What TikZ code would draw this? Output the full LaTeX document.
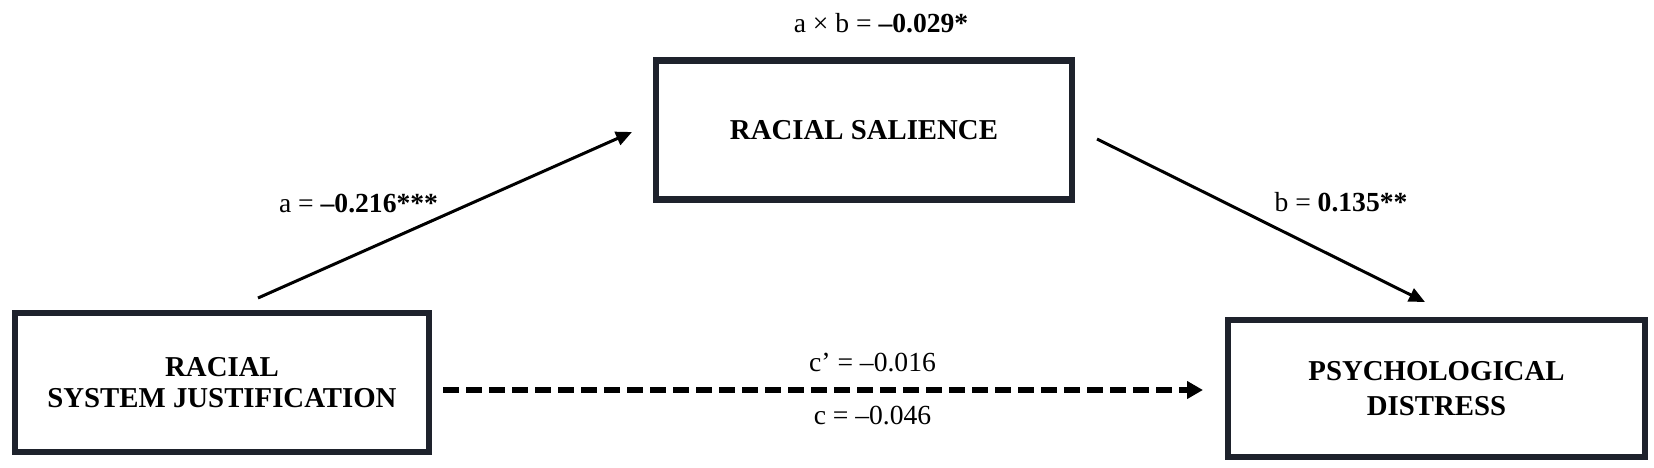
\documentclass[tikz,border=0pt]{standalone}
\usepackage{fontspec}
\setmainfont{Liberation Serif}
\usetikzlibrary{arrows.meta}
\definecolor{boxc}{RGB}{30,34,44}
\begin{document}
\begin{tikzpicture}[x=0.5pt,y=-0.5pt,
  var/.style={draw=boxc, line width=3.4pt, fill=white, align=center, inner sep=0pt},
  lab/.style={font=\fontsize{13.8}{16}\selectfont, inner sep=0pt},
  effect/.style={line width=1.5pt, -{Triangle[length=8pt,width=7pt]}},
  direct/.style={line width=3pt, dash pattern=on 7.75pt off 3.75pt, -{Triangle[length=8pt,width=8.5pt]}}]
\useasboundingbox (0,0) rectangle (1654,467);
\node[var, minimum width=207pt, minimum height=69.5pt,
  font=\fontsize{14.4}{15.5}\selectfont\bfseries] (x) at (222,382.5) {RACIAL\\SYSTEM JUSTIFICATION};
\node[var, minimum width=208pt, minimum height=69.5pt,
  font=\fontsize{14.4}{15.5}\selectfont\bfseries] (m) at (864,130) {RACIAL SALIENCE};
\node[var, minimum width=208.5pt, minimum height=68.5pt,
  font=\fontsize{14.4}{17.5}\selectfont\bfseries] (y) at (1436.5,388.5) {PSYCHOLOGICAL\\DISTRESS};
\coordinate (a1) at (258,298);
\coordinate (a2) at (632,132);
\coordinate (b1) at (1097,139);
\coordinate (b2) at (1425,302);
\coordinate (c1) at (443,390);
\coordinate (c2) at (1203,390);
\draw[effect] (a1) -- (a2);
\draw[effect] (b1) -- (b2);
\draw[direct] (c1) -- (c2);
\node[lab] (la) at (358.5,204) {a = \textbf{–0.216***}};
\node[lab] (lb) at (1341,202) {b = \textbf{0.135**}};
\node[lab] (lab) at (881,23) {a × b = \textbf{–0.029*}};
\node[lab] (lcp) at (872.5,363) {c’ = –0.016};
\node[lab] (lc) at (872.5,416) {c = –0.046};
\end{tikzpicture}
\end{document}
